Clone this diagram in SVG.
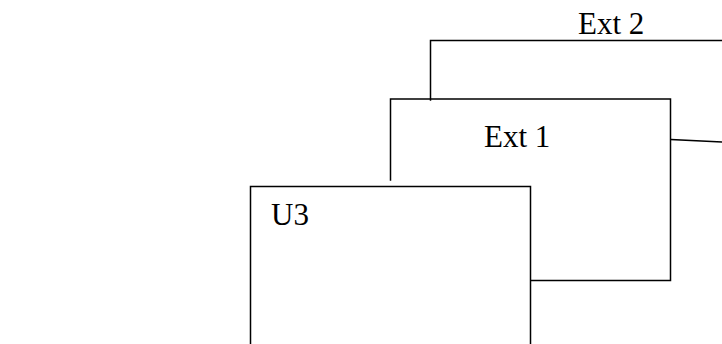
<svg xmlns="http://www.w3.org/2000/svg" width="722" height="344" viewBox="0 0 722 344">
<style>
.ln{fill:none;stroke:#000;stroke-width:1.5;stroke-linecap:square}
.t{font-family:"Liberation Serif","Times New Roman",serif;font-size:31px;fill:#000}
</style>
<rect width="722" height="344" fill="#fff"/>
<g id="ext2">
<path class="ln" d="M430.5,100 V40.5 H722"/>
<text class="t" x="578" y="34">Ext 2</text>
</g>
<g id="ext1">
<path class="ln" d="M390.5,180 V99 H670.5 V280.5 H531"/>
<text class="t" x="484" y="147">Ext 1</text>
</g>
<g id="u3">
<path class="ln" d="M250.5,344 V186.5 H530.5 V344"/>
<text class="t" x="271" y="225">U3</text>
</g>
<g id="connectors">
<path class="ln" d="M671,139.5 L722,142"/>
</g>
</svg>
